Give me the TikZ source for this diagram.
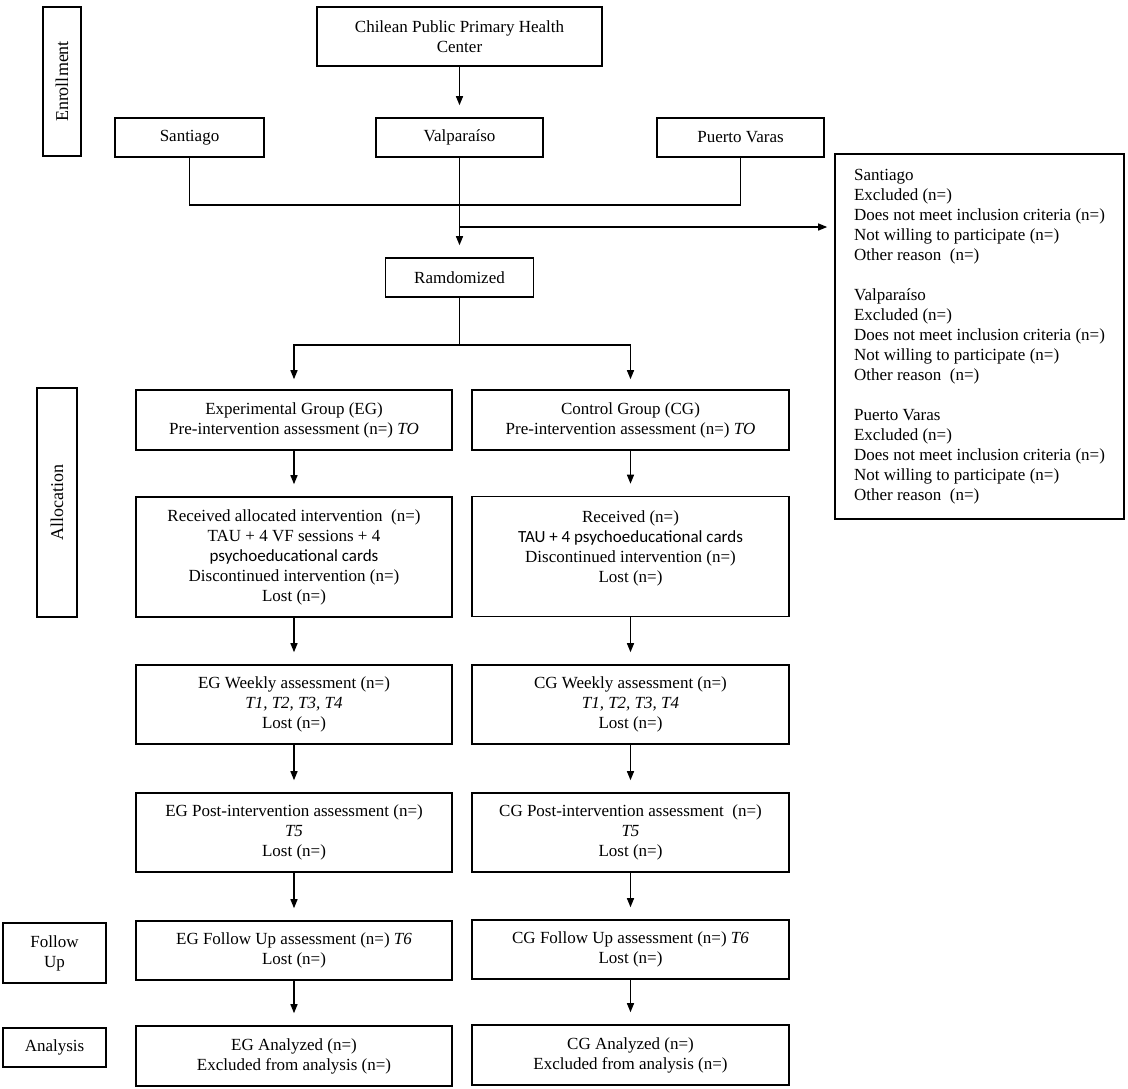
\documentclass[tikz,border=0pt]{standalone}
\usepackage{fontspec}
\setmainfont{Liberation Serif}
\newfontfamily\calfont{Carlito}
\usetikzlibrary{arrows.meta}
\begin{document}
\begin{tikzpicture}[x=1pt,y=-1pt,
  box/.style={draw, line width=1.6pt, align=center, inner sep=0pt, font=\fontsize{17}{20}\selectfont},
  side/.style={box, font=\fontsize{18}{21}\selectfont},
  arr/.style={line width=1.3pt, -{Triangle[length=9pt,width=7pt]}},
  ln/.style={line width=1.3pt}]
\useasboundingbox (0,0) rectangle (1128,1088);
% stage labels
\node[side, rotate=90, minimum width=149, minimum height=38] (enr) at (62,81.5) {Enrollment};
\node[side, rotate=90, minimum width=229, minimum height=40] (alloc) at (57,502.5) {Allocation};
\node[box, minimum width=103, minimum height=60] (fol) at (54.5,953) {Follow\\Up};
\node[box, minimum width=103, minimum height=39] (ana) at (54.5,1047.5) {Analysis};
% enrollment
\node[box, minimum width=285, minimum height=59] (chil) at (459.5,36.5) {Chilean Public Primary Health\\Center};
\node[box, minimum width=149, minimum height=39] (sant) at (189.5,137.5) {Santiago};
\node[box, minimum width=167, minimum height=39] (valp) at (459.5,137.5) {Valparaíso};
\node[box, minimum width=167, minimum height=39] (pv) at (740.5,137.5) {Puerto Varas};
\node[box, minimum width=148, minimum height=39] (rand) at (459.5,277.5) {Ramdomized};
\node[box, minimum width=289, minimum height=365, align=left] (excl) at (979.5,336.5) {Santiago\\
Excluded (n=)\\
Does not meet inclusion criteria (n=)\\
Not willing to participate (n=)\\
Other reason\ \ (n=)\\[20pt]
Valparaíso\\
Excluded (n=)\\
Does not meet inclusion criteria (n=)\\
Not willing to participate (n=)\\
Other reason\ \ (n=)\\[20pt]
Puerto Varas\\
Excluded (n=)\\
Does not meet inclusion criteria (n=)\\
Not willing to participate (n=)\\
Other reason\ \ (n=)};
% EG column
\node[box, minimum width=316, minimum height=60] (eg1) at (294,420) {Experimental Group (EG)\\Pre-intervention assessment (n=) \textit{TO}};
\node[box, minimum width=316, minimum height=120] (eg2) at (294,557) {Received allocated intervention\ \ (n=)\\TAU + 4 VF sessions + 4\\{\calfont psychoeducational cards}\\Discontinued intervention (n=)\\Lost (n=)};
\node[box, minimum width=316, minimum height=79] (eg3) at (294,704.5) {EG Weekly assessment (n=)\\\textit{T1, T2, T3, T4}\\Lost (n=)};
\node[box, minimum width=316, minimum height=79] (eg4) at (294,832.5) {EG Post-intervention assessment (n=)\\\textit{T5}\\Lost (n=)};
\node[box, minimum width=316, minimum height=59] (eg5) at (294,950.5) {EG Follow Up assessment (n=) \textit{T6}\\Lost (n=)};
\node[box, minimum width=316, minimum height=60] (eg6) at (294,1056) {EG Analyzed (n=)\\Excluded from analysis (n=)};
% CG column
\node[box, minimum width=317, minimum height=60] (cg1) at (630.5,420) {Control Group (CG)\\Pre-intervention assessment (n=) \textit{TO}};
\node[box, minimum width=317, minimum height=120] (cg2) at (630.5,556.5) {Received (n=)\\{\calfont TAU + 4 psychoeducational cards}\\Discontinued intervention (n=)\\Lost (n=)\\\mbox{}};
\node[box, minimum width=317, minimum height=79] (cg3) at (630.5,704.5) {CG Weekly assessment (n=)\\\textit{T1, T2, T3, T4}\\Lost (n=)};
\node[box, minimum width=317, minimum height=79] (cg4) at (630.5,832.5) {CG Post-intervention assessment\ \ (n=)\\\textit{T5}\\Lost (n=)};
\node[box, minimum width=317, minimum height=59] (cg5) at (630.5,949.5) {CG Follow Up assessment (n=) \textit{T6}\\Lost (n=)};
\node[box, minimum width=317, minimum height=60] (cg6) at (630.5,1055) {CG Analyzed (n=)\\Excluded from analysis (n=)};
% connectors
\coordinate (jl) at (459.5,205);
\coordinate (jb) at (459.5,227);
\coordinate (js) at (459.5,345);
\draw[arr, shorten >=12pt] (chil.south) -- (valp.north);
\draw[ln] (sant.south) |- (jl) -| (pv.south);
\draw[arr, shorten >=12pt] (valp.south) -- (rand.north);
\draw[arr, shorten >=7pt] (jb) -- (jb -| excl.west);
\draw[ln] (rand.south) -- (js);
\draw[arr, shorten >=10pt] (js) -| (eg1.north);
\draw[arr, shorten >=10pt] (js) -| (cg1.north);
\foreach \a/\b in {eg1/eg2,eg2/eg3,eg3/eg4,eg4/eg5,eg5/eg6,cg1/cg2,cg2/cg3,cg3/cg4,cg4/cg5,cg5/cg6}
  \draw[arr, shorten >=12pt] (\a.south) -- (\a.south |- \b.north);
\end{tikzpicture}
\end{document}
